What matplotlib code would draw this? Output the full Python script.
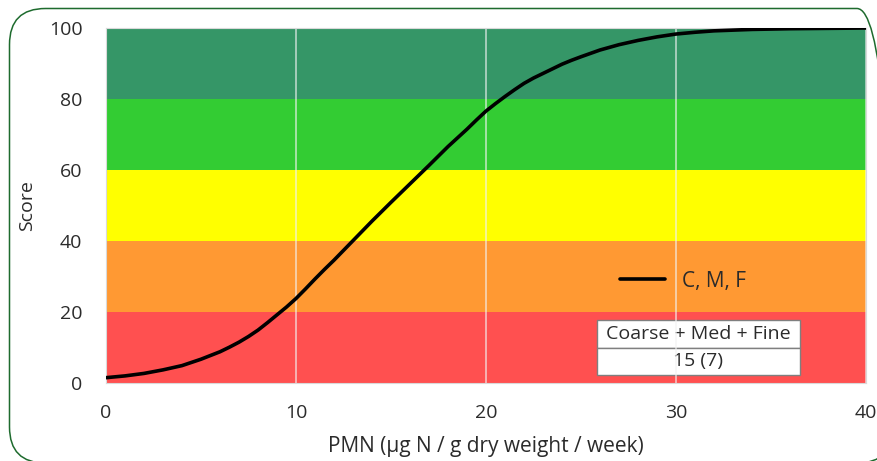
import matplotlib
matplotlib.use("Agg")
import matplotlib.pyplot as plt
from matplotlib.patches import FancyBboxPatch

plt.rcParams['font.family'] = ['Open Sans', 'DejaVu Sans']

# Data
pmn = [0, 1, 2, 3, 4, 5, 6, 6.5, 7, 7.5, 8, 8.5, 9, 9.5, 10, 10.5, 11, 11.5, 12, 13,
       14, 15, 16, 17, 18, 19, 19.5, 20, 20.5, 21, 21.5, 22, 22.5, 23, 23.5, 24, 24.5,
       25, 26, 27, 28, 29, 30, 31, 32, 33, 34, 35, 36, 37, 38, 39, 40]
score = [1.5, 2.0, 2.7, 3.7, 4.9, 6.7, 8.8, 10.1, 11.5, 13.1, 14.9, 17.0, 19.2, 21.4,
         23.8, 26.5, 29.3, 32.0, 34.6, 40.1, 45.6, 50.9, 56.1, 61.3, 66.6, 71.5, 74.1,
         76.6, 78.7, 80.7, 82.6, 84.4, 85.9, 87.2, 88.5, 89.8, 90.9, 91.9, 93.8, 95.3,
         96.5, 97.5, 98.3, 98.8, 99.2, 99.4, 99.6, 99.7, 99.8, 99.85, 99.9, 99.95, 100]
band_edges = [0, 20, 40, 60, 80, 100]
band_colors = ['#FF5050', '#FF9933', '#FFFF00', '#33CC33', '#359667']
x_ticks = [0, 10, 20, 30, 40]
y_ticks = [0, 20, 40, 60, 80, 100]
series_label = 'C, M, F'
table_rows = ['Coarse + Med + Fine', '15 (7)']

W, H = 878, 461
fig = plt.figure(figsize=(W / 100, H / 100), dpi=100)

# rounded frame drawn in a pixel-coordinate overlay (y measured from bottom)
bg = fig.add_axes([0, 0, 1, 1], zorder=-1)
bg.set_xlim(0, W)
bg.set_ylim(0, H)
bg.axis('off')
frame = FancyBboxPatch((9.5, H - 463), 893 - 9.5, 463 - 8.5,
                       boxstyle="round,pad=0,rounding_size=36",
                       facecolor='none', edgecolor='#1E6B2E', linewidth=1.1,
                       clip_on=False)
bg.add_patch(frame)

ax = fig.add_axes([106 / W, 1 - 383 / H, (866 - 106) / W, (383 - 28) / H])

for lo, hi, c in zip(band_edges[:-1], band_edges[1:], band_colors):
    ax.axhspan(lo, hi, color=c, zorder=0, linewidth=0)

for xv in x_ticks[1:]:
    ax.axvline(xv, color='#F2F2F2', alpha=0.7, linewidth=1.2, zorder=1)

line, = ax.plot(pmn, score, color='black', linewidth=2.6, zorder=3,
                solid_capstyle='round', solid_joinstyle='round')

ax.set_xlim(0, 40)
ax.set_ylim(0, 100)
ax.set_xticks(x_ticks)
ax.set_yticks(y_ticks)
ax.tick_params(length=0, labelsize=14, colors='#2B2B2B')
ax.tick_params(axis='x', pad=15)
ax.tick_params(axis='y', pad=17)
for s in ax.spines.values():
    s.set_color('#D9D9D9')
    s.set_linewidth(0.8)

ax.set_xlabel('PMN (µg N / g dry weight / week)', fontsize=15, color='#2B2B2B', labelpad=10)
ax.set_ylabel('Score', fontsize=14, color='#2B2B2B', labelpad=9)

# legend
leg = ax.legend([line], [series_label], loc='center left',
                bbox_to_anchor=((620 - 106) / 760, (383 - 281) / 355),
                frameon=False, fontsize=15, handlelength=2.15, handletextpad=0.85,
                borderaxespad=0, borderpad=0)
for t in leg.get_texts():
    t.set_color('#2B2B2B')

# small table
tbl = ax.table(cellText=[[table_rows[0]], [table_rows[1]]],
               cellLoc='center',
               bbox=[(597 - 106) / 760, (383 - 375) / 355, (800 - 597) / 760, (375 - 320) / 355])
tbl.auto_set_font_size(False)
for (r, c), cell in tbl.get_celld().items():
    cell.set_facecolor('white')
    cell.set_edgecolor('#7F7F7F')
    cell.set_linewidth(1.0)
    cell.get_text().set_fontsize(14)
    cell.get_text().set_color('#2B2B2B')
    cell.set_zorder(5)

fig.savefig('out.png', dpi=100)
